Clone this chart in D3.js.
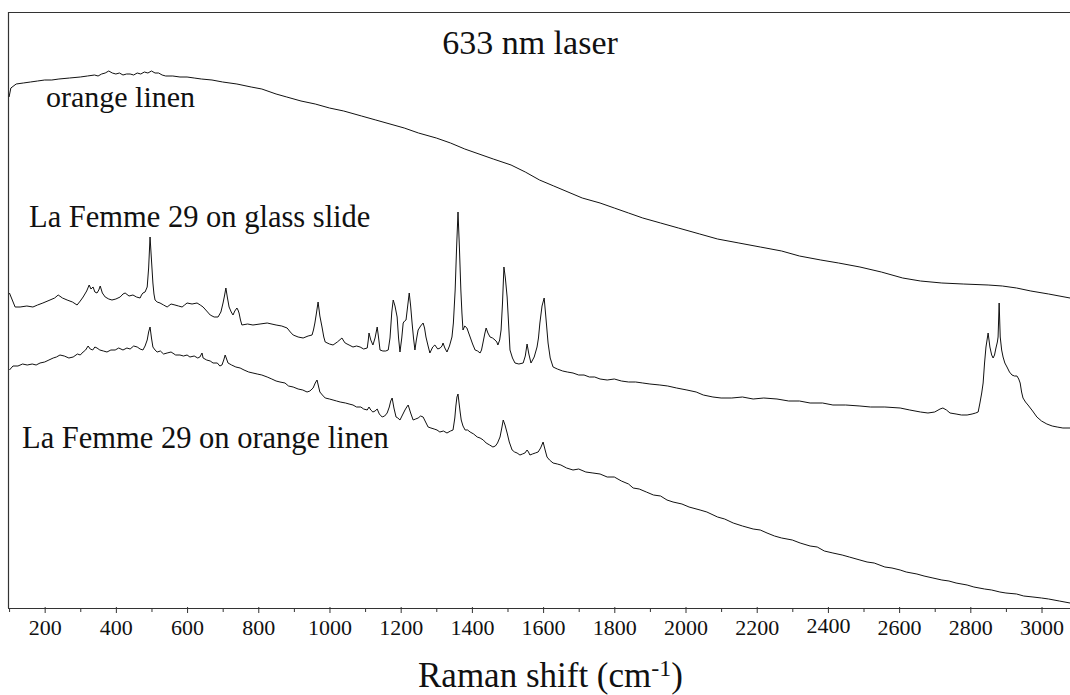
<!DOCTYPE html>
<html>
<head>
<meta charset="utf-8">
<script src="https://cdn.jsdelivr.net/npm/d3@7"></script>
<style>
  html, body { margin: 0; padding: 0; background: #fff; }
  svg { display: block; }
  svg text { font-family: "Liberation Serif", Tinos, "Times New Roman", Times, "Nimbus Roman", "DejaVu Serif", "Noto Serif", serif !important; fill: #111; }
</style>
</head>
<body>
<svg id="chart" width="1070" height="695"></svg>
<script>
// ---- data (Raman shift in cm-1, intensity in arbitrary units) ----
const title = "633 nm laser";
const xLabel = "Raman shift (cm";
const xLabelSup = "-1";
const majorTicks = [200, 400, 600, 800, 1000, 1200, 1400, 1600, 1800, 2000, 2200, 2400, 2600, 2800, 3000];
const minorTicks = [100, 300, 500, 700, 900, 1100, 1300, 1500, 1700, 1900, 2100, 2300, 2500, 2700, 2900];
const seriesNames = ["orange linen", "La Femme 29 on glass slide", "La Femme 29 on orange linen"];

const orangeLinen = [
  [100,511],[105,520],[120,524],[140,525],[160,526],[180,527],[200,528],[220,528],[240,529],[270,530],
  [300,531],[320,532],[340,533],[350,532],[360,534],[370,535],[380,537],[390,535],[400,534],[410,535],
  [420,533],[430,534],[440,534],[450,533],[460,535],[470,534],[480,536],[490,535],[500,537],[510,535],
  [520,535],[530,533],[540,532],[560,532],[580,531],[600,531],[620,530],[640,529],[670,528],[700,526],
  [740,524],[780,521],[810,519],[850,514],[880,511],[920,507],[960,504],[1000,500],[1040,497],[1090,492],
  [1130,488],[1170,484],[1210,480],[1250,475],[1300,470],[1340,465],[1380,459],[1420,454],[1460,449],
  [1510,443],[1550,436],[1590,428],[1630,422],[1670,416],[1710,410],[1760,405],[1800,400],[1840,395],
  [1880,390],[1930,385],[1980,380],[2040,374],[2090,369],[2150,365],[2210,361],[2270,357],[2320,352],
  [2380,348],[2430,345],[2490,341],[2550,336],[2610,330],[2660,327],[2720,325],[2780,324],[2850,323],
  [2890,322],[2930,320],[2970,317],[3020,314],[3080,310]
];

const glassSlide = [
  [101,315],[117,301],[131,301],[150,302],[167,301],[180,303],[195,305],[215,308],[228,310],[238,313],
  [250,310],[263,308],[278,306],[291,303],[300,307],[308,311],[318,317],[325,323],[330,319],[336,321],
  [341,316],[347,315],[352,318],[356,322],[362,315],[370,311],[380,309],[389,308],[400,309],[412,311],
  [420,314],[426,315],[437,312],[448,313],[458,311],[468,310],[472,313],[476,315],[482,316],[488,321],
  [492,340],[496,371],[500,348],[504,325],[507,314],[510,308],[516,306],[524,305],[534,303],[544,301],
  [555,304],[566,303],[576,302],[586,301],[593,303],[600,305],[614,304],[628,305],[637,303],[645,301],
  [655,297],[665,293],[676,291],[687,291],[695,296],[701,305],[705,312],[709,320],[713,311],[718,301],
  [724,296],[729,293],[734,297],[740,300],[743,298],[746,295],[750,288],[754,283],[770,284],[785,283],
  [805,284],[825,285],[850,283],[866,282],[881,280],[890,276],[898,273],[912,271],[926,270],[940,272],
  [951,273],[955,278],[959,285],[963,294],[968,306],[973,292],[979,281],[984,271],[988,266],[1000,264],
  [1010,263],[1022,266],[1035,270],[1040,267],[1044,265],[1055,263],[1066,261],[1076,262],[1086,261],
  [1096,259],[1106,260],[1109,268],[1111,275],[1116,268],[1122,263],[1128,270],[1134,281],[1138,270],
  [1142,258],[1150,257],[1158,257],[1165,258],[1170,270],[1175,296],[1179,308],[1184,302],[1190,291],
  [1194,270],[1198,256],[1203,270],[1207,285],[1211,287],[1215,288],[1219,300],[1224,315],[1228,302],
  [1232,285],[1236,270],[1240,258],[1244,268],[1249,278],[1256,282],[1263,285],[1267,280],[1271,271],
  [1277,262],[1282,255],[1290,261],[1296,263],[1304,259],[1311,260],[1316,262],[1319,265],[1324,260],
  [1330,256],[1337,262],[1344,271],[1348,285],[1353,318],[1357,360],[1361,396],[1365,360],[1369,318],
  [1372,295],[1375,278],[1380,282],[1386,280],[1390,276],[1395,271],[1402,264],[1409,258],[1416,257],
  [1423,255],[1427,258],[1431,265],[1436,274],[1440,280],[1445,275],[1451,271],[1458,270],[1465,268],
  [1470,266],[1473,263],[1478,268],[1482,278],[1486,305],[1490,341],[1494,330],[1499,311],[1503,285],
  [1507,258],[1514,250],[1521,245],[1532,244],[1544,245],[1550,252],[1555,264],[1560,254],[1566,245],
  [1575,251],[1583,261],[1587,270],[1591,285],[1597,302],[1603,310],[1608,290],[1614,265],[1620,250],
  [1628,241],[1640,239],[1655,237],[1668,236],[1684,235],[1700,233],[1715,233],[1730,231],[1745,231],
  [1760,229],[1780,228],[1800,229],[1820,227],[1840,226],[1860,226],[1880,225],[1900,224],[1928,223],
  [1950,222],[1975,220],[2004,218],[2030,216],[2050,213],[2077,211],[2100,210],[2130,210],[2160,211],
  [2190,209],[2220,210],[2257,209],[2290,207],[2320,207],[2350,205],[2385,205],[2414,203],[2450,203],
  [2490,202],[2520,201],[2560,201],[2603,200],[2630,198],[2660,196],[2681,195],[2700,196],[2715,199],
  [2723,200],[2733,198],[2743,195],[2760,194],[2775,193],[2791,193],[2805,194],[2815,195],[2822,196],
  [2827,205],[2832,215],[2836,225],[2840,245],[2844,261],[2850,275],[2855,261],[2860,253],[2864,250],
  [2868,253],[2872,260],[2876,266],[2878,271],[2881,305],[2884,271],[2888,258],[2892,251],[2897,245],
  [2903,241],[2910,236],[2917,233],[2924,232],[2931,232],[2936,229],[2940,225],[2944,216],[2948,210],
  [2955,206],[2962,203],[2975,197],[2987,191],[3000,187],[3015,184],[3030,182],[3044,181],[3060,180],
  [3080,180]
];

const linenFemme = [
  [101,238],[111,242],[125,242],[138,244],[151,243],[165,244],[176,243],[187,245],[200,246],[212,248],
  [224,250],[233,251],[243,253],[255,252],[268,250],[280,251],[292,254],[300,253],[308,256],[315,258],
  [322,262],[328,259],[335,258],[341,261],[347,260],[355,258],[365,257],[375,256],[386,258],[398,258],
  [408,260],[420,258],[431,260],[440,259],[450,262],[460,261],[468,259],[476,258],[482,262],[488,268],
  [492,276],[496,281],[500,270],[504,261],[510,258],[516,256],[525,257],[534,254],[544,255],[555,256],
  [568,253],[580,253],[590,252],[600,253],[608,251],[620,252],[630,250],[636,251],[639,253],[642,255],
  [645,250],[655,248],[665,247],[673,245],[685,245],[692,242],[698,243],[703,248],[707,253],[711,249],
  [715,245],[725,243],[737,241],[749,240],[760,238],[773,236],[785,235],[797,234],[810,233],[825,231],
  [838,229],[850,227],[861,226],[875,225],[885,222],[898,221],[912,219],[925,218],[937,216],[945,217],
  [954,220],[960,225],[965,228],[969,222],[973,216],[980,213],[988,210],[1000,209],[1010,208],[1020,207],
  [1030,206],[1045,205],[1055,204],[1066,203],[1076,201],[1088,201],[1096,199],[1106,198],[1111,201],
  [1116,198],[1122,196],[1128,197],[1134,199],[1140,194],[1148,191],[1155,192],[1162,195],[1168,201],
  [1172,207],[1176,210],[1181,200],[1187,191],[1192,190],[1198,188],[1205,193],[1212,198],[1217,201],
  [1221,203],[1228,195],[1235,188],[1242,189],[1249,190],[1256,192],[1263,191],[1270,186],[1277,181],
  [1285,180],[1294,179],[1302,178],[1310,176],[1320,177],[1330,175],[1340,177],[1347,178],[1352,190],
  [1355,202],[1358,211],[1361,214],[1364,205],[1367,196],[1370,188],[1375,182],[1381,178],[1388,178],
  [1395,176],[1405,174],[1415,171],[1423,170],[1432,168],[1440,165],[1450,163],[1459,161],[1466,162],
  [1472,165],[1479,171],[1484,180],[1488,188],[1493,183],[1499,175],[1505,166],[1513,158],[1520,156],
  [1527,155],[1535,153],[1542,154],[1549,155],[1555,158],[1559,156],[1563,153],[1570,154],[1578,155],
  [1586,156],[1593,160],[1600,166],[1605,159],[1611,151],[1618,148],[1628,145],[1640,144],[1650,143],
  [1666,140],[1684,138],[1700,139],[1720,136],[1740,135],[1760,134],[1780,131],[1800,131],[1820,127],
  [1840,124],[1853,120],[1870,119],[1890,116],[1910,113],[1930,112],[1948,108],[1965,106],[1990,104],
  [2010,101],[2041,98],[2060,96],[2090,91],[2110,89],[2134,85],[2160,82],[2190,79],[2210,78],[2229,75],
  [2250,72],[2270,70],[2300,68],[2322,65],[2350,62],[2370,61],[2390,57],[2414,55],[2440,53],[2460,51],
  [2490,48],[2510,46],[2530,45],[2560,41],[2580,40],[2603,38],[2620,36],[2650,34],[2670,32],[2695,30],
  [2720,28],[2740,27],[2760,25],[2791,23],[2810,21],[2840,19],[2860,18],[2883,16],[2900,15],[2930,14],
  [2950,12],[2976,11],[3000,10],[3020,9],[3050,7],[3080,5]
];

// ---- layout ----
const svg = d3.select("#chart");
const M = { left: 8, right: 1070, top: 12, bottom: 608 };
const serif = '"Liberation Serif", Tinos, "Times New Roman", Times, "Nimbus Roman", "DejaVu Serif", "Noto Serif", serif';

const x = d3.scaleLinear().domain([97, 3080]).range([M.left, M.right]);
const y = d3.scaleLinear().domain([0, 596]).range([M.bottom, M.top]);

// frame (top + left)
svg.append("line").attr("x1", M.left).attr("x2", M.right).attr("y1", M.top + 0.5).attr("y2", M.top + 0.5)
  .attr("stroke", "#333").attr("stroke-width", 1.2);
svg.append("line").attr("x1", M.left + 0.5).attr("x2", M.left + 0.5).attr("y1", M.top).attr("y2", M.bottom)
  .attr("stroke", "#333").attr("stroke-width", 1.2);

// axes
const axisMajor = d3.axisBottom(x).tickValues(majorTicks).tickSize(5).tickFormat(d3.format("d"));
const axisMinor = d3.axisBottom(x).tickValues(minorTicks).tickSize(4).tickFormat("");

const gMinor = svg.append("g").attr("transform", `translate(0,${M.bottom})`).call(axisMinor);
gMinor.select(".domain").remove();
gMinor.selectAll(".tick line").attr("stroke", "#333");

const gMajor = svg.append("g").attr("transform", `translate(0,${M.bottom})`).call(axisMajor)
  .attr("font-family", serif);
gMajor.select(".domain").attr("d", `M${M.left},0.5H${M.right}`).attr("stroke", "#333").attr("stroke-width", 1.2);
gMajor.selectAll(".tick line").attr("stroke", "#333").attr("y1", -1);
gMajor.selectAll(".tick text")
  .attr("y", 27).attr("dy", 0)
  .style("font-size", "22px").attr("fill", "#111")
  .filter(d => d === 2400).attr("y", 25);

// spectra
const line = d3.line().x(d => x(d[0])).y(d => y(d[1]));
[orangeLinen, glassSlide, linenFemme].forEach(s => {
  svg.append("path").datum(s).attr("d", line)
    .attr("fill", "none").attr("stroke", "#111").attr("stroke-width", 1)
    .attr("stroke-linejoin", "round");
});

// labels
svg.append("text").attr("x", 530).attr("y", 54).attr("text-anchor", "middle")
  .style("font-size", "34px").text(title);
svg.append("text").attr("x", 46).attr("y", 107).style("font-size", "30px").text(seriesNames[0]);
svg.append("text").attr("x", 29).attr("y", 227).style("font-size", "30.5px").text(seriesNames[1]);
svg.append("text").attr("x", 22).attr("y", 448).style("font-size", "30.5px").text(seriesNames[2]);

const xt = svg.append("text").attr("x", 418).attr("y", 687).style("font-size", "35px");
xt.append("tspan").text(xLabel);
xt.append("tspan").attr("dy", -11).style("font-size", "24px").text(xLabelSup);
xt.append("tspan").attr("dy", 11).text(")");
</script>
</body>
</html>
